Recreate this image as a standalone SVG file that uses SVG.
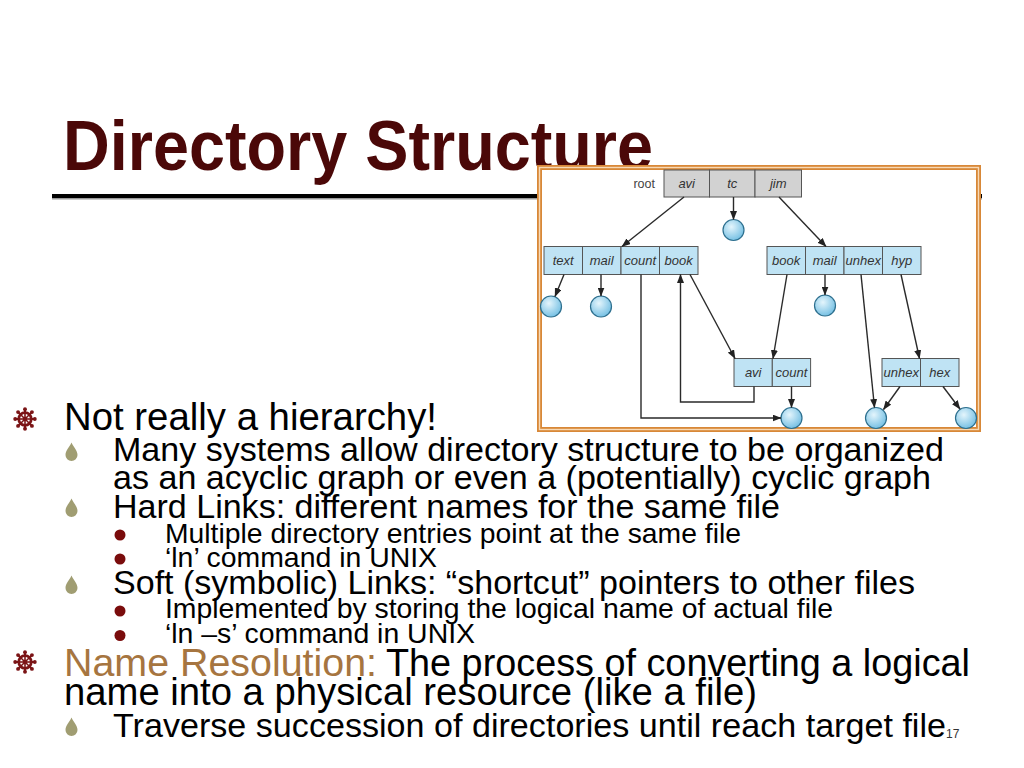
<svg xmlns="http://www.w3.org/2000/svg" width="1024" height="768" viewBox="0 0 1024 768">
<style>
.t1{font-family:"Liberation Sans",Arial,sans-serif;font-size:38px;fill:#000}
.t2{font-family:"Liberation Sans",Arial,sans-serif;font-size:34px;fill:#000}
.t3{font-family:"Liberation Sans",Arial,sans-serif;font-size:28px;fill:#000}
.title{font-family:"Liberation Sans",Arial,sans-serif;font-size:70px;font-weight:bold;fill:#4b0808}
.bx{stroke:#555;stroke-width:1}
.gray{fill:#d2d2d2}
.blue{fill:#bfe3f4}
.lbl{font-family:"Liberation Sans",Arial,sans-serif;font-size:13px;font-style:italic;fill:#333;text-anchor:middle}
.file{fill:url(#gb);stroke:#2d6f8e;stroke-width:1.2}
.conn{fill:none;stroke:#2a2a2a;stroke-width:1.4;marker-end:url(#ah)}
</style>
<defs>
<radialGradient id="gb" cx="0.4" cy="0.35" r="0.7">
<stop offset="0" stop-color="#e4f5fc"/>
<stop offset="1" stop-color="#6fbde2"/>
</radialGradient>
<marker id="ah" markerUnits="userSpaceOnUse" markerWidth="9" markerHeight="7" refX="8.5" refY="3.5" orient="auto">
<path d="M0,0 L9,3.5 L0,7 z" fill="#222"/>
</marker>
<symbol id="wheel" viewBox="-13 -13 26 26" overflow="visible">
<g fill="#7b1416" stroke="#7b1416">
<g stroke-width="2.2">
<line x1="0" y1="-10" x2="0" y2="10"/>
<line x1="-10" y1="0" x2="10" y2="0"/>
<line x1="-7.1" y1="-7.1" x2="7.1" y2="7.1"/>
<line x1="-7.1" y1="7.1" x2="7.1" y2="-7.1"/>
</g>
<circle r="6.8" fill="#fff" stroke-width="3"/>
<g stroke-width="1.7">
<line x1="0" y1="-6" x2="0" y2="6"/>
<line x1="-6" y1="0" x2="6" y2="0"/>
<line x1="-4.3" y1="-4.3" x2="4.3" y2="4.3"/>
<line x1="-4.3" y1="4.3" x2="4.3" y2="-4.3"/>
</g>
<circle r="2.4" stroke="none"/>
<g stroke="none">
<circle cx="0" cy="-10.6" r="2.1"/><circle cx="0" cy="10.6" r="2.1"/>
<circle cx="-10.6" cy="0" r="2.1"/><circle cx="10.6" cy="0" r="2.1"/>
<circle cx="-7.5" cy="-7.5" r="2.1"/><circle cx="7.5" cy="7.5" r="2.1"/>
<circle cx="-7.5" cy="7.5" r="2.1"/><circle cx="7.5" cy="-7.5" r="2.1"/>
</g>
</g>
</symbol>
<path id="drop" d="M0,-9.5 C2,-5 6,-1.5 6,3 A6,6 0 0 1 -6,3 C-6,-1.5 -2,-5 0,-9.5 Z" fill="#a09d72"/>
<circle id="dot" r="5.5" fill="#7a0c0c"/>
</defs>

<rect width="1024" height="768" fill="#fff"/>

<!-- title -->
<text class="title" x="63" y="170" textLength="590" lengthAdjust="spacingAndGlyphs">Directory Structure</text>
<rect x="52" y="194" width="930" height="4" fill="#000"/>
<rect x="52" y="198" width="930" height="1.5" fill="#999"/>

<!-- diagram frame -->
<g id="frame">
<rect x="539.5" y="167.5" width="439" height="262" fill="#fff" stroke="#d88838" stroke-width="5"/>
<rect x="539.5" y="167.5" width="439" height="262" fill="none" stroke="#f7d9b5" stroke-width="1.4"/>
</g>

<g id="root-dir">
<text x="655" y="188" font-family="Liberation Sans, Arial, sans-serif" font-size="12.5" fill="#444" text-anchor="end">root</text>
<rect class="bx gray" x="664" y="170" width="45.5" height="27"/>
<rect class="bx gray" x="709.5" y="170" width="45.5" height="27"/>
<rect class="bx gray" x="755" y="170" width="46.5" height="27"/>
<text class="lbl" x="686.7" y="188">avi</text>
<text class="lbl" x="732.2" y="188">tc</text>
<text class="lbl" x="778.2" y="188">jim</text>
</g>

<g id="avi-dir">
<rect class="bx blue" x="544" y="246.5" width="38.5" height="28"/>
<rect class="bx blue" x="582.5" y="246.5" width="38.5" height="28"/>
<rect class="bx blue" x="621" y="246.5" width="38.5" height="28"/>
<rect class="bx blue" x="659.5" y="246.5" width="38.5" height="28"/>
<text class="lbl" x="563.2" y="265">text</text>
<text class="lbl" x="601.7" y="265">mail</text>
<text class="lbl" x="640.2" y="265">count</text>
<text class="lbl" x="678.7" y="265">book</text>
</g>

<g id="jim-dir">
<rect class="bx blue" x="767" y="246.5" width="38.5" height="28"/>
<rect class="bx blue" x="805.5" y="246.5" width="38.5" height="28"/>
<rect class="bx blue" x="844" y="246.5" width="38.5" height="28"/>
<rect class="bx blue" x="882.5" y="246.5" width="38.5" height="28"/>
<text class="lbl" x="786.2" y="265">book</text>
<text class="lbl" x="824.7" y="265">mail</text>
<text class="lbl" x="863.2" y="265">unhex</text>
<text class="lbl" x="901.7" y="265">hyp</text>
</g>

<g id="book-dir">
<rect class="bx blue" x="734" y="358.5" width="38.3" height="28"/>
<rect class="bx blue" x="772.3" y="358.5" width="38.3" height="28"/>
<text class="lbl" x="753.2" y="377">avi</text>
<text class="lbl" x="791.5" y="377">count</text>
</g>

<g id="hyp-dir">
<rect class="bx blue" x="882" y="358.5" width="38.5" height="28"/>
<rect class="bx blue" x="920.5" y="358.5" width="38.5" height="28"/>
<text class="lbl" x="901.2" y="377">unhex</text>
<text class="lbl" x="939.7" y="377">hex</text>
</g>

<g id="files">
<circle class="file" cx="733.5" cy="230" r="10.5"/>
<circle class="file" cx="551" cy="306.5" r="10.5"/>
<circle class="file" cx="601" cy="306.5" r="10.5"/>
<circle class="file" cx="825" cy="305.5" r="10.5"/>
<circle class="file" cx="791.5" cy="418" r="10.5"/>
<circle class="file" cx="876" cy="418" r="10.5"/>
<circle class="file" cx="966" cy="418" r="10.5"/>
</g>

<g id="connectors">
<line class="conn" x1="684" y1="197" x2="622" y2="246.5"/>
<line class="conn" x1="733.5" y1="197" x2="733.5" y2="219.5"/>
<line class="conn" x1="779" y1="197" x2="826" y2="246.5"/>
<line class="conn" x1="564" y1="274.5" x2="555" y2="296.5"/>
<line class="conn" x1="601" y1="274.5" x2="601" y2="296"/>
<path class="conn" d="M641,274.5 V418 H781"/>
<path class="conn" d="M754,386.5 V402 H680.5 V274.5"/>
<line class="conn" x1="690" y1="274.5" x2="735" y2="358.5"/>
<line class="conn" x1="787" y1="274.5" x2="773" y2="358.5"/>
<line class="conn" x1="825" y1="274.5" x2="825" y2="295"/>
<line class="conn" x1="861" y1="274.5" x2="874.5" y2="407.5"/>
<line class="conn" x1="901" y1="274.5" x2="919.5" y2="358.5"/>
<line class="conn" x1="791.5" y1="386.5" x2="791.5" y2="407.5"/>
<line class="conn" x1="900" y1="386.5" x2="883.5" y2="409.5"/>
<line class="conn" x1="943" y1="386.5" x2="960" y2="409"/>
</g>

<!-- bullets -->
<use href="#wheel" x="13" y="407" width="24" height="24"/>
<use href="#wheel" x="13" y="650" width="24" height="24"/>
<use href="#drop" x="71.5" y="452"/>
<use href="#drop" x="71.5" y="508"/>
<use href="#drop" x="71.5" y="585"/>
<use href="#drop" x="71.5" y="727"/>
<use href="#dot" x="120" y="535"/>
<use href="#dot" x="120" y="559"/>
<use href="#dot" x="120" y="611"/>
<use href="#dot" x="120" y="635.5"/>

<!-- body text -->
<text class="t1" x="64" y="430" textLength="373" lengthAdjust="spacingAndGlyphs">Not really a hierarchy!</text>
<text class="t2" x="113" y="461" textLength="831" lengthAdjust="spacingAndGlyphs">Many systems allow directory structure to be organized</text>
<text class="t2" x="113" y="489" textLength="818" lengthAdjust="spacingAndGlyphs">as an acyclic graph or even a (potentially) cyclic graph</text>
<text class="t2" x="113" y="518" textLength="667" lengthAdjust="spacingAndGlyphs">Hard Links: different names for the same file</text>
<text class="t3" x="165" y="543" textLength="576" lengthAdjust="spacingAndGlyphs">Multiple directory entries point at the same file</text>
<text class="t3" x="165" y="567" textLength="272" lengthAdjust="spacingAndGlyphs">‘ln’ command in UNIX</text>
<text class="t2" x="113" y="594" textLength="802" lengthAdjust="spacingAndGlyphs">Soft (symbolic) Links: “shortcut” pointers to other files</text>
<text class="t3" x="165" y="618" textLength="668" lengthAdjust="spacingAndGlyphs">Implemented by storing the logical name of actual file</text>
<text class="t3" x="165" y="643" textLength="310" lengthAdjust="spacingAndGlyphs">‘ln –s’ command in UNIX</text>
<text class="t1" x="64" y="676" textLength="313" lengthAdjust="spacingAndGlyphs" style="fill:#a67540">Name Resolution:</text>
<text class="t1" x="386" y="676" textLength="584" lengthAdjust="spacingAndGlyphs">The process of converting a logical</text>
<text class="t1" x="64" y="705" textLength="693" lengthAdjust="spacingAndGlyphs">name into a physical resource (like a file)</text>
<text class="t2" x="113" y="737" textLength="833" lengthAdjust="spacingAndGlyphs">Traverse succession of directories until reach target file</text>
<text x="946" y="738" font-family="Liberation Sans, Arial, sans-serif" font-size="12" fill="#333">17</text>
</svg>
